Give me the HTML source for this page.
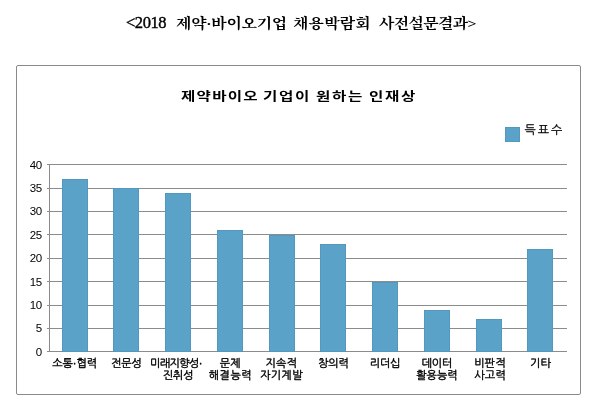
<!DOCTYPE html>
<html lang="ko"><head><meta charset="utf-8"><title>chart</title>
<style>
html,body{margin:0;padding:0;background:#fff;}
body{width:600px;height:414px;position:relative;overflow:hidden;font-family:"Liberation Sans","NanumGothic","Noto Sans CJK KR",sans-serif;color:#000;}
.abs{position:absolute;}
.t{top:11px;font-family:"Liberation Serif","Noto Serif CJK SC",serif;font-size:14.5px;line-height:24px;white-space:nowrap;font-weight:700;letter-spacing:-0.36px;transform:scale(1.1,0.93);transform-origin:0 50%;}
.tn{top:11.3px;font-family:"Liberation Serif","Noto Serif CJK SC",serif;font-size:16.5px;line-height:24px;white-space:nowrap;letter-spacing:-0.45px;-webkit-text-stroke:0.4px #000;}
.frame{left:16.2px;top:64.8px;width:564.8px;height:330.7px;border:1.5px solid #8a8a8a;box-sizing:border-box;border-radius:2px;}
.ct{top:86.6px;font-weight:bold;font-size:12px;line-height:20px;letter-spacing:1.27px;white-space:nowrap;font-family:"Liberation Sans","Noto Sans CJK KR",sans-serif;transform:scaleX(1.3);transform-origin:0 0;}
.grid{height:1px;background:#8c8c8c;}
.bar{background:#5aa2c8;box-shadow:inset 0 0 0 0.5px rgba(70,130,170,.6);}
.yl{width:30px;text-align:right;font-size:11.5px;line-height:14px;letter-spacing:-0.4px;}
.xl{text-align:center;font-size:11px;line-height:13px;white-space:nowrap;font-family:"Liberation Sans","NanumGothic",sans-serif;-webkit-text-stroke:0.4px #000;}
.lg{font-size:12px;line-height:14px;white-space:nowrap;letter-spacing:2px;-webkit-text-stroke:0.25px #000;}
</style></head><body>
<div class="abs tn" style="left:126px;">&lt;2018</div>
<div class="abs t" style="left:175.5px;letter-spacing:-0.25px;">제약·바이오기업</div>
<div class="abs t" style="left:293px;letter-spacing:0.16px;">채용박람회</div>
<div class="abs t" style="left:379px;letter-spacing:-0.61px;">사전설문결과&gt;</div>
<div class="abs frame"></div>
<div class="abs ct" style="left:181.2px;letter-spacing:0.95px;">제약바이오</div>
<div class="abs ct" style="left:263px;">기업이</div>
<div class="abs ct" style="left:316.3px;">원하는</div>
<div class="abs ct" style="left:369.3px;">인재상</div>
<div class="abs bar" style="left:505px;top:127px;width:15px;height:15px;"></div>
<div class="abs lg" style="left:524.5px;top:122.5px;">득표수</div>

<div class="abs grid" style="left:46.7px;top:351.3px;width:520.5px;"></div>
<div class="abs grid" style="left:46.7px;top:327.9px;width:520.5px;"></div>
<div class="abs grid" style="left:46.7px;top:304.5px;width:520.5px;"></div>
<div class="abs grid" style="left:46.7px;top:281.1px;width:520.5px;"></div>
<div class="abs grid" style="left:46.7px;top:257.7px;width:520.5px;"></div>
<div class="abs grid" style="left:46.7px;top:234.3px;width:520.5px;"></div>
<div class="abs grid" style="left:46.7px;top:210.9px;width:520.5px;"></div>
<div class="abs grid" style="left:46.7px;top:187.5px;width:520.5px;"></div>
<div class="abs grid" style="left:46.7px;top:164.1px;width:520.5px;"></div>
<div class="abs" style="left:48.7px;top:164.6px;width:1px;height:187.2px;background:#8c8c8c;"></div>
<div class="abs yl" style="left:11.7px;top:344.8px;">0</div>
<div class="abs yl" style="left:11.7px;top:321.4px;">5</div>
<div class="abs yl" style="left:11.7px;top:298.0px;">10</div>
<div class="abs yl" style="left:11.7px;top:274.6px;">15</div>
<div class="abs yl" style="left:11.7px;top:251.2px;">20</div>
<div class="abs yl" style="left:11.7px;top:227.8px;">25</div>
<div class="abs yl" style="left:11.7px;top:204.4px;">30</div>
<div class="abs yl" style="left:11.7px;top:181.0px;">35</div>
<div class="abs yl" style="left:11.7px;top:157.6px;">40</div>
<div class="abs bar" style="left:61.7px;top:178.6px;width:26px;height:173.2px;"></div>
<div class="abs xl" style="left:34.7px;top:356.5px;width:80px;">소통·협력</div>
<div class="abs bar" style="left:113.4px;top:188.0px;width:26px;height:163.8px;"></div>
<div class="abs xl" style="left:86.4px;top:356.5px;width:80px;">전문성</div>
<div class="abs bar" style="left:165.2px;top:192.7px;width:26px;height:159.1px;"></div>
<div class="abs xl" style="left:135.9px;top:356.5px;width:80px;letter-spacing:-0.6px;">미래지향성·</div>
<div class="abs xl" style="left:138.2px;top:368.8px;width:80px;">진취성</div>
<div class="abs bar" style="left:216.9px;top:230.1px;width:26px;height:121.7px;"></div>
<div class="abs xl" style="left:190.4px;top:356.5px;width:80px;letter-spacing:0.3px;">문제</div>
<div class="abs xl" style="left:190.4px;top:368.8px;width:80px;letter-spacing:0.5px;">해결능력</div>
<div class="abs bar" style="left:268.7px;top:234.8px;width:26px;height:117.0px;"></div>
<div class="abs xl" style="left:241.4px;top:356.5px;width:80px;letter-spacing:0.2px;">지속적</div>
<div class="abs xl" style="left:241.5px;top:368.8px;width:80px;letter-spacing:0.4px;">자기계발</div>
<div class="abs bar" style="left:320.4px;top:244.2px;width:26px;height:107.6px;"></div>
<div class="abs xl" style="left:293.4px;top:356.5px;width:80px;">창의력</div>
<div class="abs bar" style="left:372.2px;top:281.6px;width:26px;height:70.2px;"></div>
<div class="abs xl" style="left:345.2px;top:356.5px;width:80px;">리더십</div>
<div class="abs bar" style="left:423.9px;top:309.7px;width:26px;height:42.1px;"></div>
<div class="abs xl" style="left:396.9px;top:356.5px;width:80px;">데이터</div>
<div class="abs xl" style="left:396.9px;top:368.8px;width:80px;">활용능력</div>
<div class="abs bar" style="left:475.7px;top:319.0px;width:26px;height:32.8px;"></div>
<div class="abs xl" style="left:450.2px;top:356.5px;width:80px;letter-spacing:0.3px;">비판적</div>
<div class="abs xl" style="left:450.2px;top:368.8px;width:80px;letter-spacing:0.3px;">사고력</div>
<div class="abs bar" style="left:527.4px;top:248.8px;width:26px;height:103.0px;"></div>
<div class="abs xl" style="left:500.4px;top:356.5px;width:80px;">기타</div>
</body></html>
